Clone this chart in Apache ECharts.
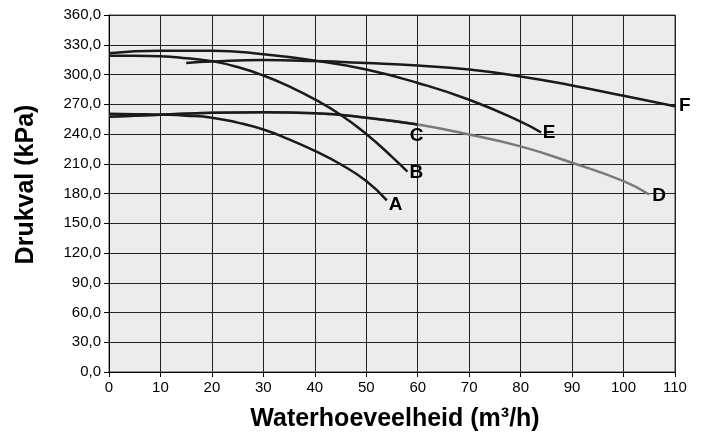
<!DOCTYPE html>
<html>
<head>
<meta charset="utf-8">
<script src="https://cdn.jsdelivr.net/npm/echarts@6/dist/echarts.min.js"></script>
<style>
html,body{margin:0;padding:0;background:#fff;}
#c{width:704px;height:434px;}
</style>
</head>
<body>
<div id="c"></div>
<script>
var xTicks = [0,10,20,30,40,50,60,70,80,90,100,110];
var yTicks = [0,30,60,90,120,150,180,210,240,270,300,330,360];

var aX = [0,5,10,15,20,25,30,35,40,45,50,54];
var aY = [260.5,260,259.5,258.5,256.5,251.5,244.5,234.5,223,209.5,192.5,173];

var bX = [0,5,10,15,20,25,30,35,40,45,50,55,58];
var bY = [319,319,318.5,316.5,313.5,307.5,299,288,275,259.5,240,217,202];

var cX = [0,10,20,30,40,50,60];
var cY = [257.5,259.5,261.5,262,261,256.5,249.5];

var dX = [0,10,20,30,40,50,60,70,80,90,100,105];
var dY = [257.5,259.5,261.5,262,261,256.5,249.5,239.5,227.5,211,192.5,179];

var eX = [0,10,20,30,40,50,60,70,80,84];
var eY = [321.5,324,324,320.5,314,305,291.5,274.5,252.5,241.5];

var fX = [15,20,30,40,50,60,70,80,90,100,110];
var fY = [311.5,313,314.5,313.5,311.5,309,305,298,289,278.5,268];

var names = ['A','B','C','D','E','F'];
var xs = [aX,bX,cX,dX,eX,fX];
var ys = [aY,bY,cY,dY,eY,fY];
var colors = ['#1a1a1a','#1a1a1a','#1a1a1a','#7a7a7a','#1a1a1a','#1a1a1a'];
var offsets = [[2,4],[2,1],[-8,11],[3,1],[1.5,0.5],[4,0]];
var order = [3,0,1,2,4,5];
var FONT = 'Liberation Sans, Arial, sans-serif';

function pairs(x,y){ return x.map(function(v,i){return [v,y[i]];}); }

var series = order.map(function(i){
  return {
    name: names[i],
    type: 'line',
    smooth: true,
    showSymbol: false,
    symbol: 'none',
    data: pairs(xs[i], ys[i]),
    lineStyle: {color: colors[i], width: 2.5},
    z: i===3 ? 2 : 3,
    endLabel: {
      show: true,
      formatter: names[i],
      distance: 0,
      offset: offsets[i],
      fontFamily: FONT,
      fontWeight: 'bold',
      fontSize: 19,
      color: '#000'
    }
  };
});

var chart = echarts.init(document.getElementById('c'), null, {renderer:'canvas'});
chart.setOption({
  animation: false,
  backgroundColor: '#ffffff',
  grid: {left:109, right:29, top:15, bottom:62, containLabel:false, outerBoundsMode:'none',
    show:true, backgroundColor:'#ececec', borderColor:'#444', borderWidth:1},
  xAxis: {
    type:'value', min:xTicks[0], max:xTicks[xTicks.length-1], interval:10,
    name:'Waterhoeveelheid (m³/h)', nameLocation:'middle', nameGap:35,
    nameTextStyle:{fontFamily:FONT, fontWeight:'bold', fontSize:25, color:'#000', padding:[0,0,0,6]},
    axisLine:{show:true, lineStyle:{color:'#000', width:1}},
    axisTick:{show:true, inside:false, length:5, lineStyle:{color:'#000'}},
    axisLabel:{margin:8, fontFamily:FONT, fontSize:15, color:'#000'},
    splitLine:{show:true, lineStyle:{color:'#222', width:1}}
  },
  yAxis: {
    type:'value', min:yTicks[0], max:yTicks[yTicks.length-1], interval:30,
    name:'Drukval (kPa)', nameLocation:'middle', nameGap:70,
    nameTextStyle:{fontFamily:FONT, fontWeight:'bold', fontSize:25, color:'#000', padding:[0,0,0,18]},
    axisLine:{show:true, lineStyle:{color:'#000', width:1}},
    axisTick:{show:true, inside:false, length:5, lineStyle:{color:'#000'}},
    axisLabel:{margin:8, fontFamily:FONT, fontSize:15, color:'#000',
      formatter:function(v){ return v.toFixed(1).replace('.', ','); }},
    splitLine:{show:true, lineStyle:{color:'#222', width:1}}
  },
  series: series
});
</script>
</body>
</html>
